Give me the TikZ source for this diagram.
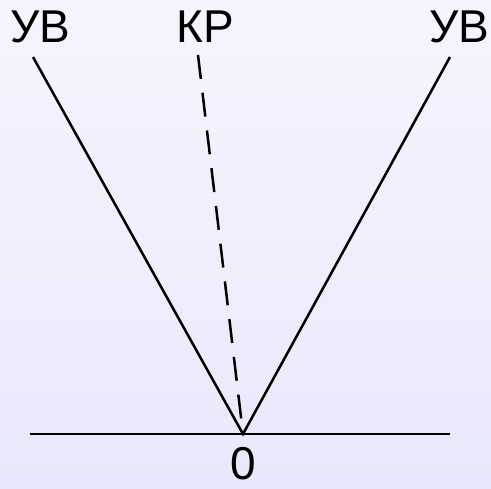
\documentclass[tikz,border=0pt]{standalone}
\usepackage{fontspec}
\setmainfont{Liberation Sans}
\begin{document}
\begin{tikzpicture}[x=1pt,y=-1pt,
  lbl/.style={font=\fontsize{46}{46}\selectfont, inner sep=0pt},
  ln/.style={line width=2.5pt, black}]
\shade[top color={rgb,255:red,245;green,245;blue,254}, bottom color={rgb,255:red,232;green,232;blue,252}] (0,0) rectangle (491,489);
\useasboundingbox (0,0) rectangle (491,489);
\coordinate (O) at (243,434);
\coordinate (HL) at (30,434);
\coordinate (HR) at (450,434);
\coordinate (L) at (33,57);
\coordinate (R) at (450,57);
\coordinate (K) at (198,55);
\node[lbl] (uvl) at (40,27) {УВ};
\node[lbl] (kr) at (205,27) {КР};
\node[lbl] (uvr) at (459,27) {УВ};
\node[lbl] (zero) at (243,464) {0};
\draw[ln] (HL) -- (HR);
\draw[ln] (L) -- (O) -- (R);
\draw[ln, dash pattern=on 24pt off 14pt] (K) -- (O);
\end{tikzpicture}
\end{document}
